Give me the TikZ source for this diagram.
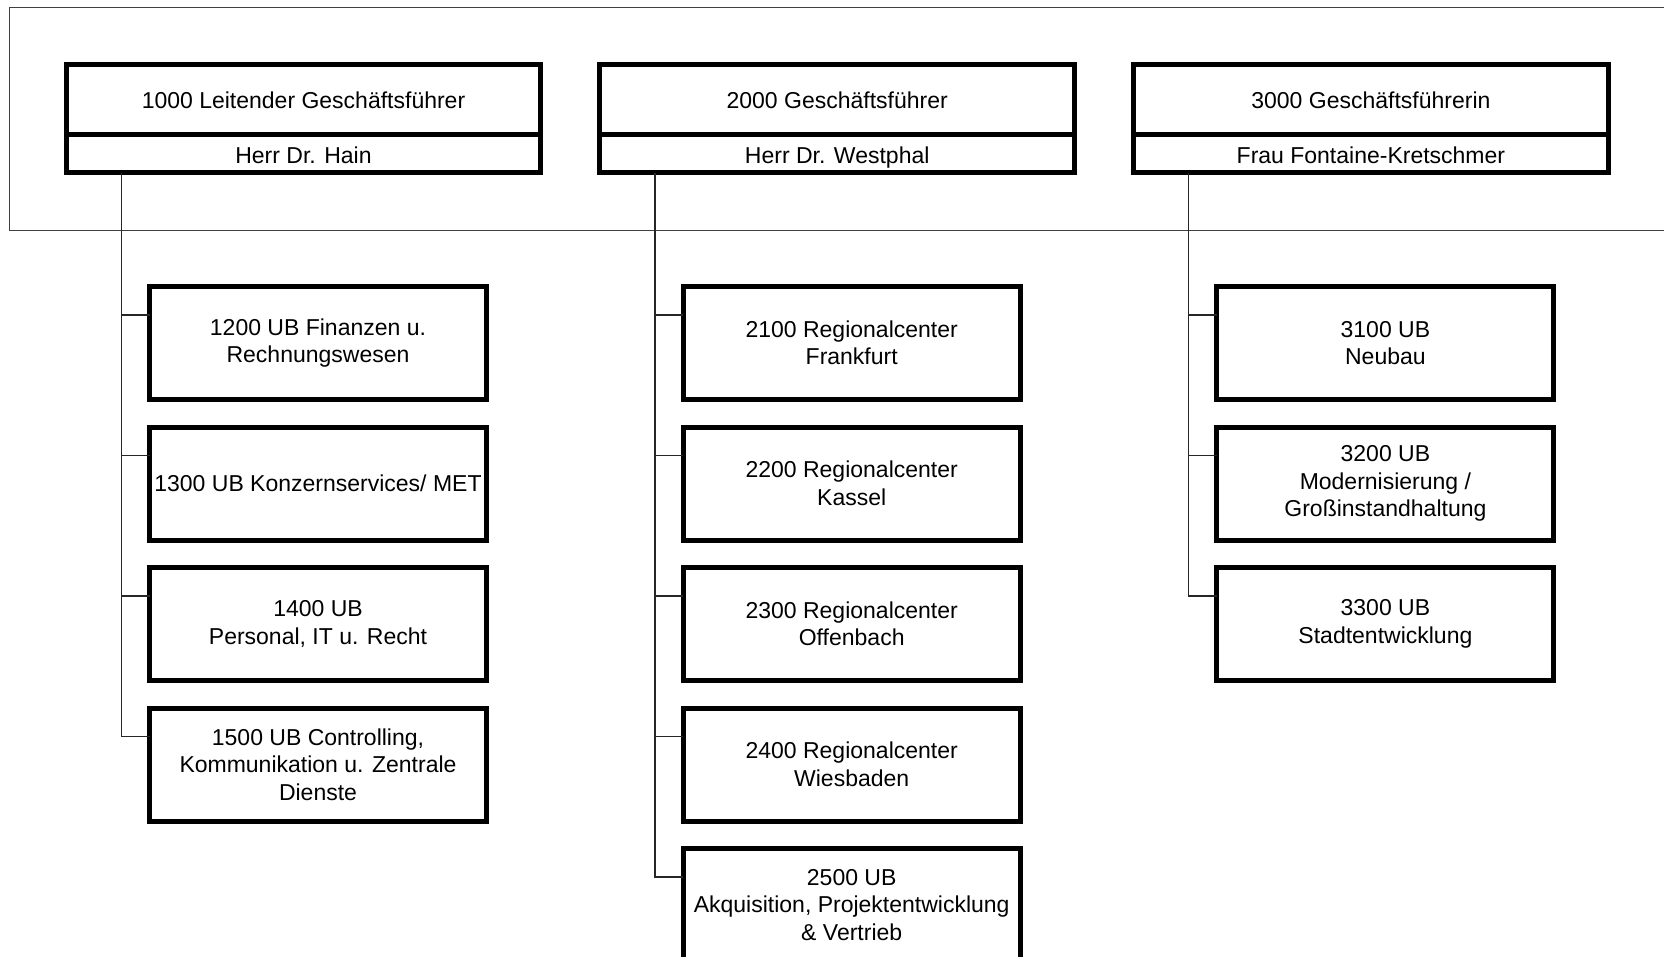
\documentclass[tikz,border=0pt]{standalone}
\usepackage{fontspec}
\setmainfont{Liberation Sans}
\begin{document}
\begin{tikzpicture}[x=1pt,y=-1pt,
  font=\fontsize{23}{27.5}\selectfont,
  headbox/.style={draw, line width=5pt, minimum width=474.6pt, inner sep=0pt, outer sep=0pt, align=center, text height=21pt, text depth=2pt},
  topbox/.style={headbox, minimum height=70.8pt},
  namebox/.style={headbox, minimum height=37.8pt},
  unitbox/.style={draw, line width=5pt, minimum width=337pt, minimum height=113pt, inner sep=0pt, outer sep=0pt, align=center},
  conn/.style={draw=black!85, line width=1.4pt},
  frame/.style={draw=black!75, line width=1.4pt}]
\useasboundingbox (0,0) rectangle (1664,956);
\clip (0,0) rectangle (1664,956);
\draw[frame] (9.5,7.4) rectangle (1700,230.3);

% top level
\node[topbox]  (h1) at (303.5,99.4) {1000 Leitender Geschäftsführer};
\node[namebox] (p1) at (303.5,153.7) {Herr Dr. Hain};
\node[topbox]  (h2) at (837.2,99.4) {2000 Geschäftsführer};
\node[namebox] (p2) at (837.2,153.7) {Herr Dr. Westphal};
\node[topbox]  (h3) at (1370.9,99.4) {3000 Geschäftsführerin};
\node[namebox] (p3) at (1370.9,153.7) {Frau Fontaine-Kretschmer};

% column 1
\node[unitbox] (u1200) at (318,343)   {1200 UB Finanzen u.\\Rechnungswesen};
\node[unitbox] (u1300) at (318,483.5) {1300 UB Konzernservices/ MET};
\node[unitbox] (u1400) at (318,624)   {1400 UB\\Personal, IT u. Recht};
\node[unitbox] (u1500) at (318,764.5) {1500 UB Controlling,\\Kommunikation u. Zentrale\\Dienste};

% column 2
\node[unitbox] (u2100) at (851.7,343)   {2100 Regionalcenter\\Frankfurt};
\node[unitbox] (u2200) at (851.7,483.5) {2200 Regionalcenter\\Kassel};
\node[unitbox] (u2300) at (851.7,624)   {2300 Regionalcenter\\Offenbach};
\node[unitbox] (u2400) at (851.7,764.5) {2400 Regionalcenter\\Wiesbaden};
\node[unitbox] (u2500) at (851.7,905)   {2500 UB\\Akquisition, Projektentwicklung\\\& Vertrieb};

% column 3
\node[unitbox] (u3100) at (1385.4,343)   {3100 UB\\Neubau};
\node[unitbox] (u3200) at (1385.4,483.5) {3200 UB\\Modernisierung /\\Großinstandhaltung};
\node[unitbox] (u3300) at (1385.4,624)   {3300 UB\\Stadtentwicklung};

% connectors
\foreach \u in {u1200,u1300,u1400,u1500}
  \draw[conn] ([xshift=55pt]p1.south west) |- ([yshift=28pt]\u.west);
\foreach \u in {u2100,u2200,u2300,u2400,u2500}
  \draw[conn] ([xshift=55pt]p2.south west) |- ([yshift=28pt]\u.west);
\foreach \u in {u3100,u3200,u3300}
  \draw[conn] ([xshift=55pt]p3.south west) |- ([yshift=28pt]\u.west);
\end{tikzpicture}
\end{document}
